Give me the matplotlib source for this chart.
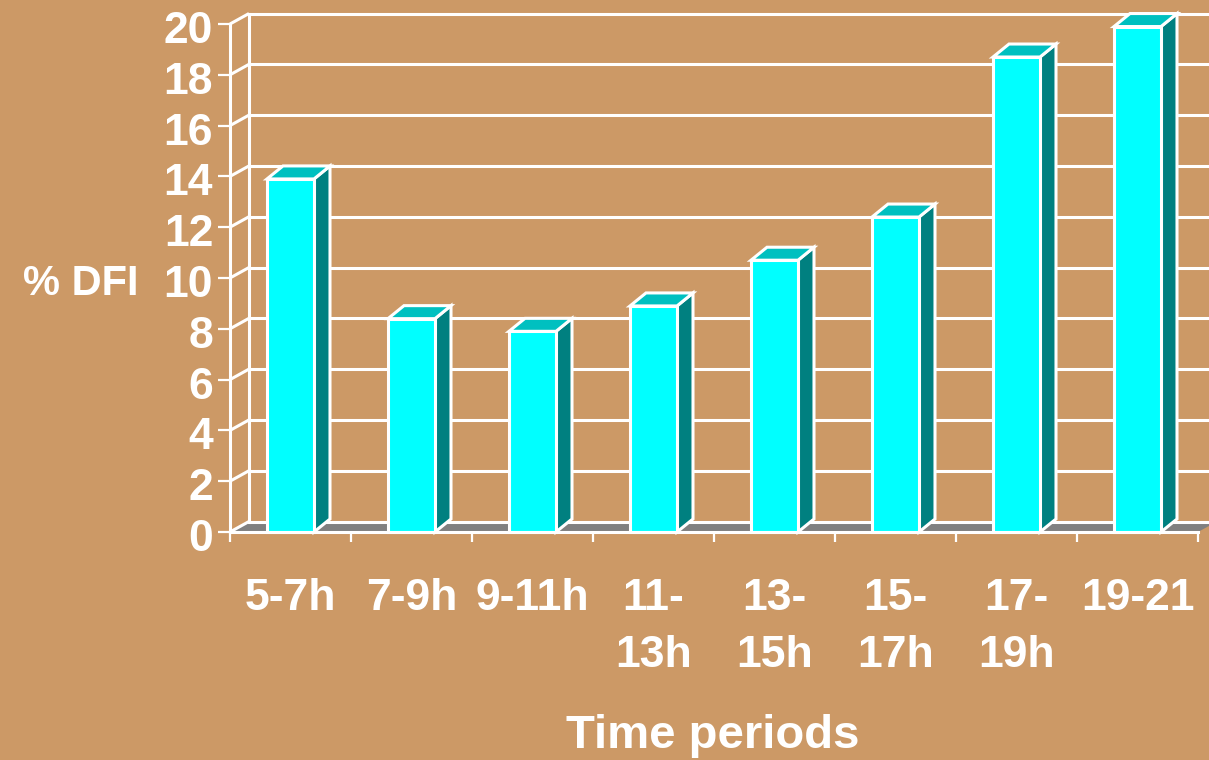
import matplotlib
matplotlib.use("Agg")
import matplotlib.pyplot as plt
from matplotlib.patches import Polygon, Rectangle
from matplotlib.transforms import ScaledTranslation

# ---- data ----
categories = ["5-7h", "7-9h", "9-11h", "11-\n13h", "13-\n15h", "15-\n17h", "17-\n19h", "19-21"]
values = [13.9, 8.4, 7.9, 8.9, 10.7, 12.4, 18.7, 19.9]
yticks = list(range(0, 21, 2))
xlabel = "Time periods"
ylabel = "% DFI"

# ---- style ----
BG = "#CC9966"
FRONT = "#00FFFF"
SIDE = "#008080"
TOP = "#00C0C0"
FLOOR = "#808080"
WHITE = "white"
FONT = "Liberation Sans"
FS = 32

W, H = 1209, 760
fig = plt.figure(figsize=(W / 100, H / 100), dpi=100, facecolor=BG)
ax_l, ax_r, ax_t, ax_b = 230, 1198, 24, 532
ax = fig.add_axes([ax_l / W, 1 - ax_b / H, (ax_r - ax_l) / W, (ax_b - ax_t) / H])
ax.set_facecolor("none")
n = len(categories)
ax.set_xlim(0, n)
ax.set_ylim(0, 20)

# pixel -> data unit conversion for the pseudo-3D depth
px_x = n / (ax_r - ax_l)
px_y = 20 / (ax_b - ax_t)
WDX, WDY = 19 * px_x, 10.5 * px_y   # wall depth
BDX, BDY = 16 * px_x, 13 * px_y     # bar depth
bar_w = 47 * px_x

LW = 2.2
# floor
floor = Polygon([(0, 0), (n, 0), (n + WDX, WDY), (WDX, WDY)], closed=True,
                facecolor=FLOOR, edgecolor="none", zorder=1, clip_on=False)
ax.add_patch(floor)

# gridlines on side + back wall
for v in yticks:
    ax.plot([0, WDX], [v, v + WDY], color=WHITE, lw=LW, zorder=2, clip_on=False,
            solid_capstyle="butt")
    ax.plot([WDX, n + WDX], [v + WDY, v + WDY], color=WHITE, lw=LW, zorder=2,
            clip_on=False, solid_capstyle="butt")
ax.plot([WDX, WDX], [WDY, 20 + WDY], color=WHITE, lw=LW, zorder=2, clip_on=False)

# bars
for i, v in enumerate(values):
    x0 = i + 0.5 - bar_w / 2
    x1 = x0 + bar_w
    side = Polygon([(x1, 0), (x1 + BDX, BDY), (x1 + BDX, v + BDY), (x1, v)], closed=True,
                   facecolor=SIDE, edgecolor=WHITE, lw=LW, zorder=3, clip_on=False,
                   joinstyle="miter")
    top = Polygon([(x0, v), (x1, v), (x1 + BDX, v + BDY), (x0 + BDX, v + BDY)], closed=True,
                  facecolor=TOP, edgecolor=WHITE, lw=LW, zorder=3, clip_on=False,
                  joinstyle="miter")
    front = Rectangle((x0, 0), bar_w, v, facecolor=FRONT, edgecolor=WHITE, lw=LW,
                      zorder=4, clip_on=False, joinstyle="miter")
    ax.add_patch(side)
    ax.add_patch(top)
    ax.add_patch(front)

# spines
for s in ["top", "right"]:
    ax.spines[s].set_visible(False)
for s in ["left", "bottom"]:
    ax.spines[s].set_color(WHITE)
    ax.spines[s].set_linewidth(LW)
    ax.spines[s].set_zorder(5)

# y ticks
ax.set_yticks(yticks)
ax.set_yticklabels([str(t) for t in yticks])
ax.tick_params(axis="y", which="major", direction="out", length=8.6, width=1.6,
               color=WHITE, pad=3.5, labelcolor=WHITE, labelsize=FS)
shift = ScaledTranslation(0, -3 / 100, fig.dpi_scale_trans)
for lab in ax.get_yticklabels():
    lab.set_fontfamily(FONT)
    lab.set_fontweight("bold")
    lab.set_transform(lab.get_transform() + shift)

# x ticks: major at boundaries (no labels), minor at centres (labels)
ax.set_xticks(range(n + 1))
ax.set_xticklabels([""] * (n + 1))
ax.set_xticks([i + 0.5 for i in range(n)], minor=True)
ax.set_xticklabels(categories, minor=True)
ax.tick_params(axis="x", which="major", direction="out", length=7, width=1.6, color=WHITE)
ax.tick_params(axis="x", which="minor", length=0, pad=33, labelcolor=WHITE, labelsize=FS)
for lab in ax.get_xticklabels(minor=True):
    lab.set_fontfamily(FONT)
    lab.set_fontweight("bold")
    lab.set_linespacing(1.5)
    lab.set_multialignment("center")

ax.set_xlabel(xlabel, color=WHITE, fontsize=34, fontweight="bold", fontfamily=FONT)
ax.xaxis.set_label_coords((713 - ax_l) / (ax_r - ax_l), (ax_b - 736) / (ax_b - ax_t))
ax.xaxis.label.set_va("center")

ax.set_ylabel(ylabel, color=WHITE, fontsize=FS - 2, fontweight="bold", fontfamily=FONT,
              rotation=0, ha="center", va="center")
ax.yaxis.set_label_coords((81 - ax_l) / (ax_r - ax_l), (ax_b - 284) / (ax_b - ax_t))

fig.savefig("out.png", dpi=100, facecolor=BG)
